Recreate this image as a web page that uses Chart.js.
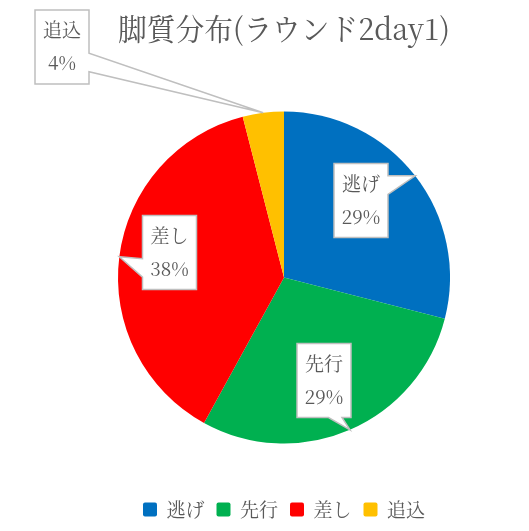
<!DOCTYPE html>
<html>
<head>
<meta charset="utf-8">
<script src="https://cdn.jsdelivr.net/npm/chart.js@4"></script>
<style>
  html, body { margin: 0; padding: 0; background: #fff; }
  #wrap { width: 529px; height: 531px; }
</style>
</head>
<body>
<div id="wrap"><canvas id="pie"></canvas></div>
<script>
// 脚質分布 — ラウンド2 day1
const labels = ['逃げ', '先行', '差し', '追込'];
const shares = [29, 29, 38, 4];
const colors = ['#0070C0', '#00B050', '#FF0000', '#FFC000'];

const FONT = '"Noto Serif CJK JP", "Liberation Serif", "Noto Sans CJK JP", serif';
const TEXT = '#595959';

// callout box centres, relative to the pie centre (px)
const calloutPos = [[77, -77], [40, 103], [-114.5, -25], [-222, -230.5]];

const calloutPlugin = {
  id: 'callouts',
  afterDatasetsDraw(chart) {
    const ctx = chart.ctx;
    const meta = chart.getDatasetMeta(0);
    const data = chart.data.datasets[0].data;
    const total = data.reduce((a, b) => a + b, 0);
    ctx.save();
    ctx.font = '19px ' + FONT;
    meta.data.forEach((arc, i) => {
      const mid = (arc.startAngle + arc.endAngle) / 2;
      const tx = arc.x + arc.outerRadius * Math.cos(mid);
      const ty = arc.y + arc.outerRadius * Math.sin(mid);
      const w = 54, h = 74;
      const cx = arc.x + calloutPos[i][0], cy = arc.y + calloutPos[i][1];
      const l = cx - w / 2, t = cy - h / 2, r = l + w, b = t + h;
      const dx = tx - cx, dy = ty - cy;
      const horiz = Math.abs(dx) / w > Math.abs(dy) / h;
      const lo = (horiz ? dy : dx) > 0 ? 7 / 12 : 2 / 12;
      const hi = lo + 3 / 12;
      ctx.beginPath();
      ctx.moveTo(l, t);
      if (!horiz && dy < 0) { ctx.lineTo(l + w * lo, t); ctx.lineTo(tx, ty); ctx.lineTo(l + w * hi, t); }
      ctx.lineTo(r, t);
      if (horiz && dx > 0) { ctx.lineTo(r, t + h * lo); ctx.lineTo(tx, ty); ctx.lineTo(r, t + h * hi); }
      ctx.lineTo(r, b);
      if (!horiz && dy > 0) { ctx.lineTo(l + w * hi, b); ctx.lineTo(tx, ty); ctx.lineTo(l + w * lo, b); }
      ctx.lineTo(l, b);
      if (horiz && dx < 0) { ctx.lineTo(l, t + h * hi); ctx.lineTo(tx, ty); ctx.lineTo(l, t + h * lo); }
      ctx.closePath();
      ctx.fillStyle = '#fff';
      ctx.fill();
      ctx.strokeStyle = '#BFBFBF';
      ctx.lineWidth = 1.5;
      ctx.stroke();
      ctx.fillStyle = TEXT;
      ctx.textAlign = 'center';
      ctx.textBaseline = 'middle';
      ctx.fillText(chart.data.labels[i], cx, t + 20);
      ctx.fillText(Math.round(data[i] / total * 100) + '%', cx, t + 53);
    });
    ctx.restore();
  }
};

new Chart(document.getElementById('pie'), {
  type: 'pie',
  data: {
    labels,
    datasets: [{ data: shares, backgroundColor: colors, borderWidth: 0 }]
  },
  options: {
    responsive: true, maintainAspectRatio: false,
    animation: false,
    layout: { padding: { left: 118, right: 79, top: 0, bottom: 2 } },
    plugins: {
      title: {
        display: true, text: '脚質分布(ラウンド2day1)', color: TEXT,
        font: { family: FONT, size: 30, weight: 'normal' },
        padding: { top: 11, bottom: 20 }
      },
      legend: {
        position: 'bottom',
        labels: {
          color: TEXT, boxWidth: 14, boxHeight: 14, padding: 12,
          useBorderRadius: true, borderRadius: 2,
          font: { family: FONT, size: 19 }
        }
      },
      tooltip: { enabled: false }
    }
  },
  plugins: [calloutPlugin]
});
</script>
</body>
</html>
